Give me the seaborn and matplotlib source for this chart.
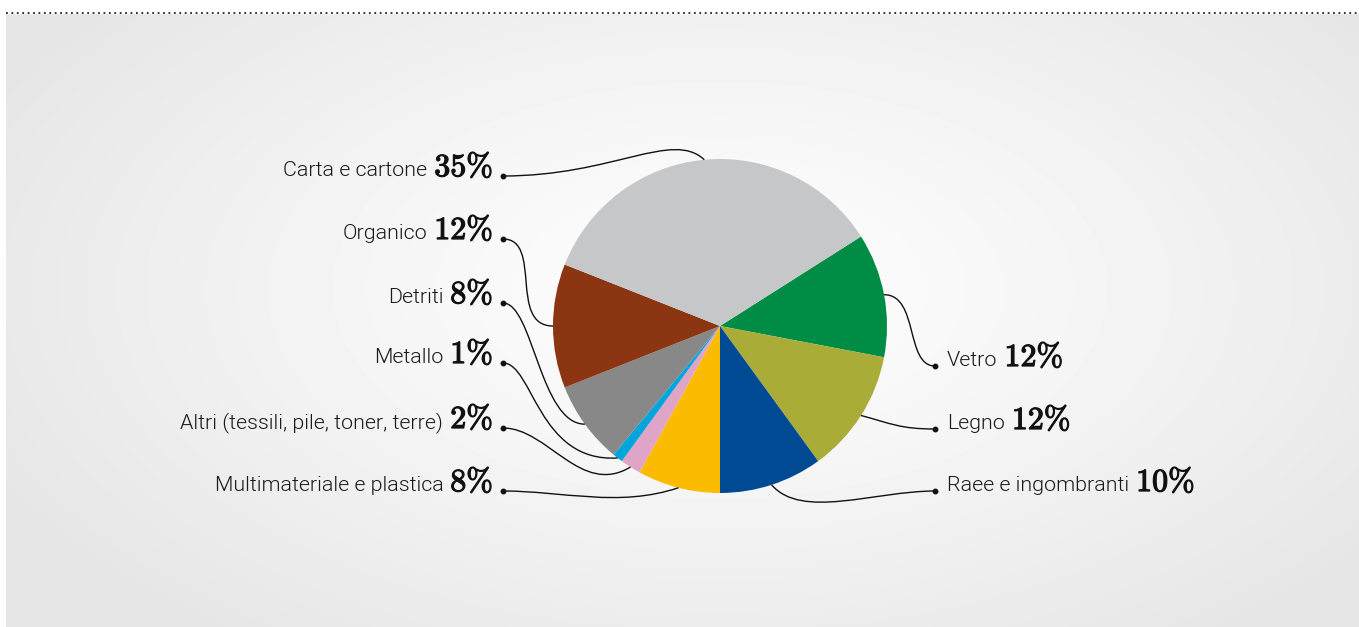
import numpy as np
import matplotlib
matplotlib.use("Agg")
import matplotlib.pyplot as plt
from matplotlib import font_manager
from matplotlib.path import Path
from matplotlib.patches import PathPatch
import matplotlib.patheffects as pe
import seaborn as sns

# data (clockwise from the top right)
categories = ["Vetro", "Legno", "Raee e ingombranti", "Multimateriale e plastica",
              "Altri (tessili, pile, toner, terre)", "Metallo", "Detriti",
              "Organico", "Carta e cartone"]
shares = [12, 12, 10, 8, 2, 1, 8, 12, 35]
colors = ["#008c45", "#a9ad38", "#004a93", "#fbbb00", "#e0a4c6",
          "#00a6db", "#888888", "#8b3512", "#c6c7c8"]

# label layout: side, dot row (px from top), handle from dot, handle from rim
side = ["R", "R", "R", "L", "L", "L", "L", "L", "L"]
dot_y = [366, 429, 491, 491, 428, 363, 303, 239, 176]
out_len = [30, 35, 60, 60, 45, 30, 30, 40, 110]
in_vec = [(35, 0), (30, 8), (30, 35), (-60, 20), (-50, 30), (-80, 5),
          (-45, 0), (-45, 0), (-32, -30)]

W, H = 1359, 627
cx, cy, rad = 720, 326, 167
dot_xl, dot_xr = 503, 935

sns.set_theme(style="white")

# look for a light sans face, fall back to plain Roboto
light = None
for fam in ["Roboto", "Lato", "Open Sans", "Inter", "Noto Sans"]:
    for f in font_manager.fontManager.ttflist:
        if f.name == fam and f.style == "normal" and isinstance(f.weight, int) and 250 <= f.weight <= 300:
            light = f.fname
            break
    if light:
        break
if light:
    lbl_font = font_manager.FontProperties(fname=light, size=15.4)
else:
    lbl_font = font_manager.FontProperties(family="Roboto", size=15.4)

plt.rcParams["font.family"] = ["Roboto", "DejaVu Sans"]
plt.rcParams["mathtext.fontset"] = "cm"

fig = plt.figure(figsize=(W / 100, H / 100), dpi=100)
ax = fig.add_axes([0, 0, 1, 1])

# soft radial background
xs = np.arange(6, W) + 0.5
ys = np.arange(14, H) + 0.5
gx, gy = np.meshgrid(xs, ys)
t = np.sqrt(((gx - 720) / 800) ** 2 + ((gy - 290) / 430) ** 2)
val = (253 - 23 * np.clip(t, 0, 1) ** 1.3) / 255
ax.imshow(val, cmap="gray", vmin=0, vmax=1, extent=(6, W, 0, H - 14),
          origin="upper", zorder=0, interpolation="bilinear", aspect="auto")
ax.plot([6, W], [H - 12.5, H - 12.5], ls=(0, (1, 2)), lw=1.3, color="#222222", zorder=1)

wedges, _ = ax.pie(shares, colors=colors, startangle=32.4, counterclock=False,
                   center=(cx, H - cy), radius=rad, frame=True,
                   wedgeprops=dict(linewidth=0))
for w in wedges:
    w.set_zorder(2)

ax.set_xlim(0, W)
ax.set_ylim(0, H)
ax.set_aspect("auto")
ax.axis("off")

renderer = fig.canvas.get_renderer()
lbl_kw = dict(fontproperties=lbl_font, color="#1a1a1a", va="baseline", zorder=4)
pct_kw = dict(fontsize=23, color="#111111", va="baseline", zorder=4,
              path_effects=[pe.withStroke(linewidth=0.9, foreground="#111111")])

for i, name in enumerate(categories):
    w = wedges[i]
    mid = np.deg2rad((w.theta1 + w.theta2) / 2)
    ax_x = cx + rad * np.cos(mid)
    ax_y = H - cy + rad * np.sin(mid)
    yb = H - dot_y[i]
    pct = r"$\mathbf{" + str(shares[i]) + r"\%}$"
    if side[i] == "L":
        dx = dot_xl
        p1 = (dx + out_len[i], yb)
    else:
        dx = dot_xr
        p1 = (dx - out_len[i], yb)
    p2 = (ax_x + in_vec[i][0], ax_y - in_vec[i][1])
    path = Path([(dx, yb), p1, p2, (ax_x, ax_y)],
                [Path.MOVETO, Path.CURVE4, Path.CURVE4, Path.CURVE4])
    ax.add_patch(PathPatch(path, fc="none", ec="#111111", lw=1.0, zorder=3))
    ax.plot(dx, yb, "o", ms=3.2, color="#111111", zorder=4)

    if side[i] == "L":
        tp = ax.text(dot_xl - 10, yb, pct, ha="right", **pct_kw)
        bb = tp.get_window_extent(renderer)
        ax.text(bb.x0 - 7, yb, name, ha="right", **lbl_kw)
    else:
        tl = ax.text(dot_xr + 12, yb, name, ha="left", **lbl_kw)
        bb = tl.get_window_extent(renderer)
        ax.text(bb.x1 + 7, yb, pct, ha="left", **pct_kw)

fig.savefig("out.png", dpi=100)
